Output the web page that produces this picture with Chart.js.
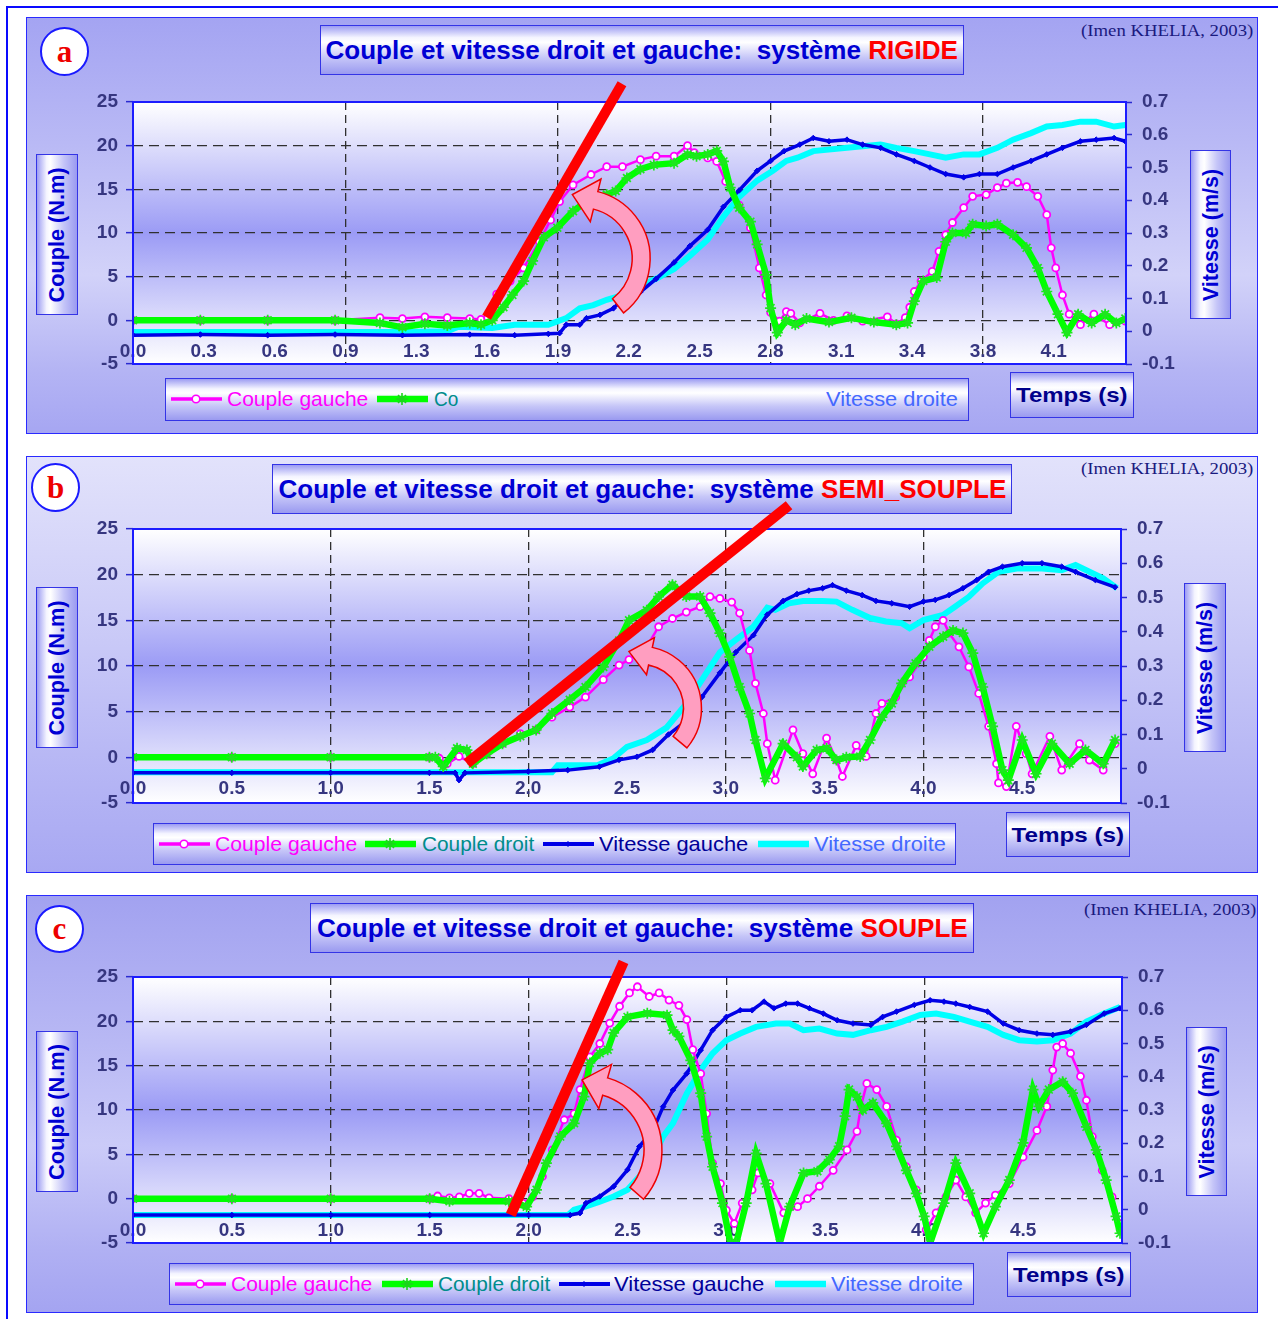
<!DOCTYPE html>
<html>
<head>
<meta charset="utf-8">
<script src="https://cdn.jsdelivr.net/npm/chart.js@4.4.1/dist/chart.umd.min.js"></script>
<style>
  body { margin:0; width:1278px; height:1319px; position:relative; background:#fff; overflow:hidden;
         font-family:Arial, "Liberation Sans", Helvetica, sans-serif; }
  .abs { position:absolute; }
  .line { position:absolute; background:#0a0aff; }
  .panel { position:absolute; box-sizing:border-box; border:1.5px solid #2a2aff; }
  .box { position:absolute; box-sizing:border-box; border:1.5px solid #3434e6;
         display:flex; align-items:center; justify-content:center; overflow:visible; }
  .hgrad { background:linear-gradient(180deg,#9c9cf2 0%,#f4f4ff 24%,#ffffff 34%,#c6c6f8 66%,#9a9af0 100%); }
  .vgrad { background:linear-gradient(90deg,#9c9cf2 0%,#f4f4ff 24%,#ffffff 34%,#c6c6f8 66%,#9a9af0 100%); }
  .fit { white-space:nowrap; display:inline-block; transform-origin:center center; }
  .title { font-weight:bold; font-size:26px; color:#0000d4; }
  .title b { color:#ff0000; }
  .axisTitle { font-weight:bold; font-size:22px; color:#0000d4; }
  .temps { font-weight:bold; font-size:21px; color:#00008b; }
  .circle { position:absolute; box-sizing:border-box; border:2px solid #1a1aff; border-radius:50%; background:#fff;
            display:flex; align-items:center; justify-content:center;
            font-family:"Times New Roman","Liberation Serif",serif; font-weight:bold; font-size:31px; color:#ee0000; }
  .imen { position:absolute; white-space:nowrap; font-family:"Times New Roman","Liberation Serif",serif;
          font-size:17px; line-height:20px; color:#1a1a80; transform-origin:left center; }
  .legText { position:absolute; white-space:nowrap; font-size:21px; line-height:24px; transform-origin:left center; }
  canvas { position:absolute; }
</style>
</head>
<body>
<div class="line" style="left:6px;top:6px;width:1272px;height:2px"></div>
<div class="line" style="left:6px;top:6px;width:2px;height:1313px"></div>
<script>
// ---------- data: [time (s), value] ----------
const aCoupleGauche = [[0,0],[0.3,0],[0.6,0],[0.9,0],[1.1,0.3],[1.2,0.2],[1.3,0.4],[1.4,0.3],[1.5,0.2],[1.55,0.1],
  [1.58,0.3],[1.62,3.0],[1.68,4.5],[1.74,6.0],[1.81,9.0],[1.86,11.5],[1.90,13.6],[1.96,15.5],[2.04,16.7],[2.11,17.6],
  [2.18,17.6],[2.26,18.4],[2.33,18.8],[2.41,18.8],[2.47,20.0],[2.50,19.2],[2.56,18.6],[2.60,18.2],[2.64,15.9],[2.70,13.2],
  [2.75,10.6],[2.79,6.0],[2.82,2.9],[2.84,0.9],[2.88,-0.1],[2.91,1.0],[2.93,0.8],[2.97,-0.3],[3.06,0.8],[3.12,0],
  [3.18,0.5],[3.25,-0.1],[3.36,0.4],[3.40,-0.4],[3.44,0.3],[3.46,1.5],[3.48,3.3],[3.51,4.5],[3.56,5.6],[3.59,7.9],
  [3.62,9.8],[3.65,11.2],[3.70,12.9],[3.74,14.2],[3.80,14.4],[3.85,15.2],[3.89,15.7],[3.94,15.8],[3.98,15.3],[4.03,14.2],
  [4.07,12.1],[4.09,8.3],[4.11,6.0],[4.14,2.9],[4.17,0.7],[4.22,-0.5],[4.28,0.7],[4.35,-0.5],[4.42,-0.1]];
const aCoupleDroit = [[0,0],[0.3,0],[0.6,0],[0.9,0],[1.1,-0.3],[1.2,-0.8],[1.3,-0.4],[1.4,-0.6],[1.5,-0.3],[1.55,-0.5],
  [1.60,0.0],[1.65,1.5],[1.69,2.9],[1.74,4.5],[1.78,6.8],[1.83,9.5],[1.89,10.6],[1.96,12.5],[2.02,13.6],[2.11,14.4],
  [2.15,14.8],[2.20,16.3],[2.26,17.3],[2.32,17.8],[2.41,18.0],[2.47,19.0],[2.51,18.8],[2.56,19.0],[2.60,19.4],[2.63,18.2],
  [2.66,15.2],[2.70,12.9],[2.75,11.3],[2.78,8.7],[2.82,5.2],[2.84,1.4],[2.87,-1.4],[2.91,0.0],[2.95,-0.5],[3.00,0.2],
  [3.10,-0.2],[3.20,0.3],[3.30,-0.2],[3.40,-0.5],[3.45,-0.3],[3.48,2.2],[3.52,4.5],[3.58,4.9],[3.62,9.0],[3.65,10.0],
  [3.71,10.0],[3.74,11.0],[3.80,10.8],[3.85,11.0],[3.92,9.8],[3.98,8.3],[4.03,6.0],[4.07,3.3],[4.12,0.7],[4.16,-1.4],
  [4.21,0.7],[4.27,-0.3],[4.33,0.7],[4.38,-0.3],[4.42,0.2]];
const aVitesseGauche = [[0,-0.012],[0.3,-0.010],[0.6,-0.012],[0.9,-0.010],[1.2,-0.012],[1.5,-0.010],[1.7,-0.012],[1.85,-0.008],
  [1.90,-0.006],[1.93,0.02],[1.99,0.02],[2.02,0.04],[2.08,0.05],[2.14,0.07],[2.17,0.09],[2.26,0.12],[2.33,0.16],[2.41,0.21],
  [2.48,0.26],[2.56,0.31],[2.63,0.38],[2.70,0.43],[2.78,0.49],[2.84,0.52],[2.90,0.55],[2.97,0.57],[3.03,0.59],[3.10,0.58],
  [3.18,0.585],[3.25,0.57],[3.33,0.56],[3.40,0.54],[3.48,0.52],[3.55,0.50],[3.62,0.48],[3.70,0.47],[3.77,0.48],[3.85,0.48],
  [3.92,0.50],[4.00,0.52],[4.07,0.54],[4.14,0.56],[4.22,0.58],[4.29,0.585],[4.37,0.59],[4.42,0.58]];
const aVitesseDroite = [[0,-0.002],[0.3,-0.002],[0.6,-0.002],[0.9,-0.002],[1.2,-0.002],[1.40,0.0],[1.45,0.014],[1.60,0.01],
  [1.70,0.02],[1.85,0.02],[1.93,0.04],[1.99,0.07],[2.05,0.08],[2.11,0.096],[2.18,0.11],[2.26,0.14],[2.33,0.16],[2.41,0.19],
  [2.48,0.23],[2.56,0.28],[2.63,0.35],[2.70,0.41],[2.78,0.46],[2.85,0.49],[2.91,0.52],[2.96,0.53],[3.03,0.55],[3.18,0.56],
  [3.33,0.57],[3.40,0.56],[3.48,0.55],[3.55,0.54],[3.62,0.53],[3.70,0.54],[3.77,0.54],[3.85,0.56],[3.92,0.585],[4.00,0.605],
  [4.07,0.625],[4.14,0.63],[4.22,0.64],[4.29,0.64],[4.37,0.625],[4.42,0.63]];

const bCoupleGauche = [[0,0],[0.5,0],[1.0,0],[1.5,0],[1.55,-0.1],[1.59,-0.7],[1.65,0.1],[1.72,-0.7],[1.79,0.4],[1.87,1.5],
  [1.96,2.6],[2.04,3.0],[2.12,4.4],[2.21,5.5],[2.29,6.6],[2.38,8.5],[2.46,10.1],[2.51,10.7],[2.60,12.1],[2.66,14.3],
  [2.73,15.2],[2.80,15.9],[2.87,16.5],[2.92,17.6],[2.97,17.4],[3.03,17.0],[3.07,15.8],[3.12,11.7],[3.15,8.1],[3.19,4.8],
  [3.21,1.5],[3.25,-2.5],[3.34,3.0],[3.39,0.4],[3.44,-1.8],[3.51,2.1],[3.56,-0.3],[3.59,-2.1],[3.66,1.3],[3.71,0.1],
  [3.76,4.8],[3.79,5.9],[3.86,6.6],[3.93,8.8],[4.00,11.0],[4.03,12.8],[4.06,14.3],[4.10,15.0],[4.13,13.6],[4.18,12.1],
  [4.23,9.9],[4.28,7.0],[4.33,3.4],[4.37,-0.7],[4.38,-2.8],[4.42,-3.2],[4.47,3.4],[4.52,0.4],[4.55,-1.8],[4.64,2.3],
  [4.70,-1.4],[4.79,1.5],[4.84,-0.3],[4.91,-1.4],[4.97,1.5]];
const bCoupleDroit = [[0,0],[0.5,0],[1.0,0],[1.5,0],[1.53,0],[1.57,-1.0],[1.64,1.0],[1.69,0.8],[1.72,-0.7],[1.79,0.4],
  [1.87,1.5],[1.96,2.3],[2.04,3.0],[2.12,4.8],[2.21,6.3],[2.29,7.7],[2.38,9.9],[2.46,12.8],[2.51,15.0],[2.60,16.1],
  [2.66,17.6],[2.73,18.9],[2.80,17.6],[2.87,17.6],[2.92,15.8],[2.97,13.6],[3.02,11.0],[3.07,7.7],[3.12,4.8],[3.15,1.9],
  [3.20,-2.3],[3.29,1.5],[3.36,0],[3.39,-1.0],[3.46,0.8],[3.51,1.0],[3.56,-0.3],[3.61,0],[3.68,0.1],[3.73,1.9],
  [3.79,4.4],[3.84,5.9],[3.89,8.1],[3.96,10.3],[4.03,12.1],[4.10,13.2],[4.15,13.9],[4.20,13.6],[4.25,11.4],[4.30,7.7],
  [4.35,3.4],[4.40,-1.4],[4.43,-2.5],[4.50,1.9],[4.57,-1.8],[4.65,1.5],[4.74,-0.7],[4.82,0.8],[4.91,-0.7],[4.97,1.9]];
const bVitesseGauche = [[0,-0.012],[0.5,-0.012],[1.0,-0.012],[1.5,-0.012],[1.63,-0.012],[1.65,-0.033],[1.68,-0.012],[2.0,-0.008],
  [2.20,-0.004],[2.36,0.006],[2.46,0.026],[2.55,0.035],[2.63,0.055],[2.71,0.10],[2.80,0.14],[2.88,0.21],[2.97,0.28],[3.05,0.34],
  [3.14,0.39],[3.21,0.45],[3.29,0.49],[3.36,0.51],[3.42,0.52],[3.49,0.527],[3.54,0.536],[3.61,0.52],[3.69,0.507],[3.76,0.49],
  [3.84,0.483],[3.93,0.473],[4.00,0.488],[4.06,0.493],[4.13,0.507],[4.20,0.527],[4.27,0.551],[4.33,0.575],[4.40,0.59],[4.50,0.60],
  [4.60,0.60],[4.70,0.59],[4.77,0.575],[4.87,0.551],[4.97,0.53]];
const bVitesseDroite = [[0,-0.01],[0.5,-0.01],[1.0,-0.01],[1.5,-0.01],[2.0,-0.01],[2.12,-0.01],[2.15,0.01],[2.35,0.01],
  [2.43,0.03],[2.50,0.064],[2.60,0.084],[2.70,0.12],[2.80,0.19],[2.88,0.26],[2.97,0.34],[3.05,0.376],[3.14,0.415],[3.21,0.47],
  [3.25,0.464],[3.32,0.483],[3.39,0.49],[3.49,0.49],[3.56,0.488],[3.64,0.464],[3.73,0.44],[3.81,0.43],[3.89,0.425],[3.93,0.41],
  [4.00,0.434],[4.10,0.449],[4.16,0.473],[4.23,0.502],[4.30,0.541],[4.38,0.575],[4.48,0.585],[4.60,0.585],[4.70,0.58],[4.77,0.595],
  [4.84,0.575],[4.91,0.556],[4.98,0.527]];

const cCoupleGauche = [[0,0],[0.5,0],[1.0,0],[1.5,0],[1.54,0.3],[1.60,0.1],[1.65,0.2],[1.70,0.6],[1.75,0.6],[1.80,0.1],
  [1.90,0],[1.97,-0.5],[2.02,0.2],[2.07,2.5],[2.12,5.5],[2.18,8.9],[2.23,9.6],[2.26,12.3],[2.31,16.0],[2.36,17.5],
  [2.41,19.8],[2.46,21.7],[2.51,23.2],[2.55,23.9],[2.61,22.8],[2.66,23.2],[2.71,22.4],[2.76,21.8],[2.80,20.2],[2.83,16.8],
  [2.87,14.1],[2.90,9.6],[2.93,4.0],[2.97,1.7],[3.00,-1.3],[3.04,-2.8],[3.08,-0.5],[3.13,1.0],[3.16,2.9],[3.22,1.7],
  [3.29,-1.6],[3.36,-0.9],[3.41,0],[3.47,1.4],[3.54,3.2],[3.61,5.5],[3.66,7.6],[3.68,10.4],[3.71,13.0],[3.76,12.3],
  [3.81,10.4],[3.86,6.6],[3.91,3.6],[3.96,1.0],[4.01,-3.5],[4.06,-1.6],[4.11,0.2],[4.16,2.1],[4.21,0.2],[4.26,-1.6],
  [4.31,-0.5],[4.36,0.4],[4.43,1.7],[4.50,4.7],[4.57,7.7],[4.62,10.4],[4.65,14.5],[4.67,17.1],[4.70,17.5],[4.74,16.4],
  [4.79,13.8],[4.82,11.1],[4.85,7.0],[4.90,3.2],[4.95,0.2],[4.99,-2.8]];
const cCoupleDroit = [[0,0],[0.5,0],[1.0,0],[1.5,0],[1.6,-0.3],[1.9,-0.3],[1.99,-0.9],[2.04,1.0],[2.09,4.0],[2.16,7.0],
  [2.23,8.5],[2.28,11.5],[2.31,15.3],[2.36,16.4],[2.40,16.8],[2.43,18.7],[2.50,20.5],[2.60,20.9],[2.70,20.7],[2.73,19.0],
  [2.76,18.3],[2.82,15.6],[2.87,11.9],[2.90,7.0],[2.93,3.6],[2.98,-0.5],[3.02,-5.0],[3.05,-5.0],[3.10,-0.5],[3.15,5.1],
  [3.20,1.7],[3.27,-5.0],[3.32,-0.9],[3.39,2.9],[3.46,3.1],[3.52,4.4],[3.57,5.9],[3.60,9.3],[3.62,12.3],[3.66,11.5],
  [3.69,10.0],[3.74,10.8],[3.81,8.5],[3.86,5.9],[3.91,3.2],[3.96,0.6],[4.00,-2.0],[4.03,-5.0],[4.10,-0.5],[4.16,4.0],
  [4.23,0.6],[4.30,-3.9],[4.36,-0.9],[4.43,2.1],[4.50,6.3],[4.55,12.3],[4.58,10.4],[4.63,12.3],[4.70,13.2],[4.75,11.9],
  [4.82,8.1],[4.87,5.5],[4.92,2.1],[4.97,-2.0],[4.99,-3.9]];
const cVitesseGauche = [[0,-0.016],[0.5,-0.016],[1.0,-0.016],[1.5,-0.016],[2.0,-0.016],[2.21,-0.016],[2.26,-0.01],[2.29,0.02],
  [2.36,0.04],[2.43,0.07],[2.50,0.12],[2.56,0.19],[2.63,0.24],[2.68,0.31],[2.73,0.36],[2.80,0.41],[2.87,0.48],[2.93,0.54],
  [3.00,0.58],[3.07,0.60],[3.13,0.60],[3.19,0.626],[3.24,0.606],[3.30,0.62],[3.36,0.62],[3.42,0.606],[3.49,0.59],[3.56,0.57],
  [3.64,0.56],[3.73,0.556],[3.79,0.58],[3.86,0.596],[3.95,0.616],[4.03,0.63],[4.10,0.626],[4.16,0.62],[4.23,0.61],[4.32,0.596],
  [4.40,0.56],[4.48,0.54],[4.57,0.53],[4.65,0.526],[4.74,0.536],[4.82,0.556],[4.91,0.59],[4.99,0.606]];
const cVitesseDroite = [[0,-0.016],[0.5,-0.016],[1.0,-0.016],[1.5,-0.016],[2.0,-0.016],[2.20,-0.016],[2.23,0],[2.29,0.01],
  [2.36,0.024],[2.43,0.04],[2.50,0.06],[2.56,0.10],[2.63,0.16],[2.68,0.22],[2.73,0.26],[2.80,0.35],[2.87,0.42],[2.93,0.47],
  [3.00,0.51],[3.07,0.53],[3.15,0.55],[3.25,0.56],[3.32,0.56],[3.39,0.54],[3.47,0.545],[3.56,0.53],[3.64,0.526],[3.73,0.54],
  [3.81,0.55],[3.89,0.566],[3.98,0.586],[4.06,0.59],[4.15,0.58],[4.23,0.566],[4.32,0.55],[4.40,0.526],[4.48,0.51],[4.57,0.506],
  [4.65,0.51],[4.74,0.53],[4.82,0.566],[4.91,0.59],[4.99,0.61]];

// x tick positions (s) and their printed labels
const xTicksA = [0, 0.315, 0.631, 0.946, 1.262, 1.577, 1.893, 2.208, 2.524, 2.839, 3.155, 3.470, 3.786, 4.101];
const xLabelsA = ['0.0','0.3','0.6','0.9','1.3','1.6','1.9','2.2','2.5','2.8','3.1','3.4','3.8','4.1'];
const xTicksBC = [0, 0.5, 1.0, 1.5, 2.0, 2.5, 3.0, 3.5, 4.0, 4.5];
const xLabelsBC = ['0.0','0.5','1.0','1.5','2.0','2.5','3.0','3.5','4.0','4.5'];

// annotations in data units (time, couple): red line and curved arrow centre
const annoA = { line:[[1.575,0.34],[2.178,27.1]], lw:10, arrow:{t:1.996, c:7.07, r:60, w:18, a0:52, a1:-76, ext:13, len:24} };
const annoB = { line:[[1.69,-0.66],[3.32,27.6]], lw:10.5, arrow:{t:2.563, c:5.40, r:53, w:18, a0:40, a1:-78, ext:10, len:22} };
const annoC = { line:[[1.91,-1.84],[2.48,26.7]], lw:10.5, arrow:{t:2.295, c:5.49, r:66, w:18, a0:41, a1:-74, ext:14, len:24} };

const FONT = 'Arial, "Liberation Sans", Helvetica, sans-serif';
const TICK_COLOR = '#363680';

const STYLE = {
  cg: { label:'Couple gauche', borderColor:'#ff00ff', borderWidth:2.5, pointStyle:'circle', pointRadius:3.5,
        pointBackgroundColor:'#ffffff', pointBorderColor:'#ff00ff', pointBorderWidth:1.8, yAxisID:'y', order:1 },
  cd: { label:'Couple droit', borderColor:'#00ff00', borderWidth:6.5, pointStyle:'star', pointRadius:5.5,
        pointBackgroundColor:'#00ff00', pointBorderColor:'#1ee61e', pointBorderWidth:1.7, yAxisID:'y', order:0 },
  vg: { label:'Vitesse gauche', borderColor:'#0000e6', borderWidth:3.5, pointStyle:'rectRot', pointRadius:2.8,
        pointBackgroundColor:'#0000e6', pointBorderColor:'#0000e6', pointBorderWidth:1, yAxisID:'y1', order:2 },
  vd: { label:'Vitesse droite', borderColor:'#00ffff', borderWidth:6, pointRadius:0, yAxisID:'y1', order:3 }
};
const LEG_COLOR = { cg:'#ff00ff', cd:'#008c8c', vg:'#000099', vd:'#4468ff' };

const PANELS = [
  { id:'a', system:'RIGIDE', box:[26,17,1232,417],
    bg:'linear-gradient(180deg,#a4a4f2 0%,#b9b9f5 30%,#d2d2f9 62%,#b4b4f4 85%,#a6a6f2 100%)',
    plot:[107,85,1100,347], xMax:4.423, xTicks:xTicksA, xLabels:xLabelsA, vGrid:[3,6,9,12], xLabelUp:12,
    series:{ cg:aCoupleGauche, cd:aCoupleDroit, vg:aVitesseGauche, vd:aVitesseDroite }, anno:annoA,
    title:[320,25,644,50,632], circle:[40,27,49,49], imen:[1081,31,172],
    couple:[36,154,42,161,135], vitesse:[1190,150,41,169,132], temps:[1010,372,124,46,112],
    legend:[165,378,804,43], legY:399,
    legItems:[ {s:'cg',x:171}, {t:'Couple gauche',k:'cg',x:227,w:141}, {s:'cd',x:377}, {t:'Co',k:'cd',x:434,w:24.5},
               {t:'Vitesse droite',k:'vd',x:826,w:132} ] },
  { id:'b', system:'SEMI_SOUPLE', box:[26,456,1232,417],
    bg:'linear-gradient(180deg,#e2e2fb 0%,#cfcff8 35%,#b9b9f5 70%,#a8a8f2 100%)',
    plot:[107,73,1095,347], xMax:5.0, xTicks:xTicksBC, xLabels:xLabelsBC, vGrid:[2,4,6,8], xLabelUp:14,
    series:{ cg:bCoupleGauche, cd:bCoupleDroit, vg:bVitesseGauche, vd:bVitesseDroite }, anno:annoB,
    title:[272,464,740,50,728], circle:[31,463,49,49], imen:[1081,469,172],
    couple:[36,587,42,161,135], vitesse:[1184,583,42,169,132], temps:[1006,812,124,45,113],
    legend:[153,823,803,42], legY:844,
    legItems:[ {s:'cg',x:159}, {t:'Couple gauche',k:'cg',x:215,w:142}, {s:'cd',x:365}, {t:'Couple droit',k:'cd',x:422,w:112},
               {s:'vg',x:543}, {t:'Vitesse gauche',k:'vg',x:599,w:149}, {s:'vd',x:758}, {t:'Vitesse droite',k:'vd',x:814,w:132} ] },
  { id:'c', system:'SOUPLE', box:[26,895,1232,418],
    bg:'linear-gradient(180deg,#a2a2f0 0%,#b8b8f4 35%,#cbcbf8 60%,#b0b0f3 85%,#a4a4f1 100%)',
    plot:[107,82,1096,348], xMax:5.0, xTicks:xTicksBC, xLabels:xLabelsBC, vGrid:[2,4,6,8], xLabelUp:12,
    series:{ cg:cCoupleGauche, cd:cCoupleDroit, vg:cVitesseGauche, vd:cVitesseDroite }, anno:annoC,
    title:[310,903,664,50,651], circle:[35,905,49,48], imen:[1084,910,172],
    couple:[36,1031,42,161,136], vitesse:[1186,1027,41,169,133], temps:[1007,1252,124,45,112],
    legend:[169,1263,805,42], legY:1284,
    legItems:[ {s:'cg',x:175}, {t:'Couple gauche',k:'cg',x:231,w:141}, {s:'cd',x:382}, {t:'Couple droit',k:'cd',x:438,w:112},
               {s:'vg',x:559}, {t:'Vitesse gauche',k:'vg',x:614,w:150}, {s:'vd',x:775}, {t:'Vitesse droite',k:'vd',x:831,w:132} ] }
];

// ---------- helpers ----------
function el(tag, cls, css, html) {
  const e = document.createElement(tag);
  if (cls) e.className = cls;
  if (css) e.style.cssText = css;
  if (html !== undefined) e.innerHTML = html;
  document.body.appendChild(e);
  return e;
}
function boxCss(r) { return `left:${r[0]}px;top:${r[1]}px;width:${r[2]}px;height:${r[3]}px;`; }

function fitInBox(box, cls, html, target, vertical) {
  const s = document.createElement('span');
  s.className = 'fit ' + cls;
  s.innerHTML = html;
  box.appendChild(s);
  const k = target / s.offsetWidth;
  s.style.transform = vertical ? `rotate(-90deg) scaleX(${k})` : `scaleX(${k})`;
}
function fitLeft(cls, text, x, yc, target, color) {
  const s = el('span', cls, `left:${x}px;top:0px;` + (color ? `color:${color};` : ''), text);
  const h = s.offsetHeight;
  s.style.top = (yc - h / 2) + 'px';
  s.style.transform = `scaleX(${target / s.offsetWidth})`;
}

function legendSample(kind, x, yc) {
  const c = STYLE[kind].borderColor;
  let mark = '';
  if (kind === 'cg') mark = `<circle cx="25" cy="8" r="3.8" fill="#fff" stroke="${c}" stroke-width="1.6"/>`;
  if (kind === 'cd') mark = `<g stroke="#1ed21e" stroke-width="1.6"><line x1="25" y1="2" x2="25" y2="14"/><line x1="19" y1="8" x2="31" y2="8"/>`
                          + `<line x1="21" y1="4" x2="29" y2="12"/><line x1="21" y1="12" x2="29" y2="4"/></g>`;
  if (kind === 'vg') mark = `<polygon points="25,5 28,8 25,11 22,8" fill="${c}"/>`;
  const w = { cg:3.5, cd:6.5, vg:4, vd:6.5 }[kind];
  const svg = `<svg width="51" height="16" viewBox="0 0 51 16"><line x1="0" y1="8" x2="51" y2="8" stroke="${c}" stroke-width="${w}"/>${mark}</svg>`;
  el('div', 'abs', `left:${x}px;top:${yc - 8}px;width:51px;height:16px;line-height:0`, svg);
}

function decoPlugin(p) {
  const anno = p.anno;
  return {
    id: 'deco',
    beforeDraw(chart) {
      const { ctx, chartArea: a } = chart;
      const g = ctx.createLinearGradient(0, a.top, 0, a.bottom);
      g.addColorStop(0, '#ffffff');
      g.addColorStop(0.5, '#9b9bf5');
      g.addColorStop(1, '#ffffff');
      ctx.save();
      ctx.fillStyle = g;
      ctx.fillRect(a.left, a.top, a.right - a.left, a.bottom - a.top);
      ctx.restore();
    },
    beforeDatasetsDraw(chart) {
      // category-style time labels sit inside the plot, just above its bottom edge
      const { ctx, chartArea: a, scales } = chart;
      ctx.save();
      ctx.font = `bold 19px ${FONT}`;
      ctx.fillStyle = TICK_COLOR;
      ctx.textAlign = 'center';
      ctx.textBaseline = 'middle';
      p.xTicks.forEach((v, i) => ctx.fillText(p.xLabels[i], scales.x.getPixelForValue(v), a.bottom - p.xLabelUp));
      ctx.restore();
    },
    afterDatasetsDraw(chart) {
      const { ctx, chartArea: a, scales } = chart;
      const px = v => scales.x.getPixelForValue(v), py = v => scales.y.getPixelForValue(v);
      ctx.save();
      // plot frame
      ctx.strokeStyle = '#1c1cff';
      ctx.lineWidth = 2;
      ctx.strokeRect(a.left, a.top, a.right - a.left, a.bottom - a.top);
      // thick red slope line
      const [p0, p1] = anno.line;
      ctx.strokeStyle = '#ff0000';
      ctx.lineWidth = anno.lw;
      ctx.lineCap = 'butt';
      ctx.beginPath();
      ctx.moveTo(px(p0[0]), py(p0[1]));
      ctx.lineTo(px(p1[0]), py(p1[1]));
      ctx.stroke();
      // pink curved arrow
      const ar = anno.arrow;
      const cx = px(ar.t), cy = py(ar.c), hw = ar.w / 2;
      const a0 = ar.a0 * Math.PI / 180, a1 = ar.a1 * Math.PI / 180;
      const ox = Math.cos(a1), oy = Math.sin(a1), tx = Math.sin(a1), ty = -Math.cos(a1);
      ctx.beginPath();
      ctx.arc(cx, cy, ar.r + hw, a0, a1, true);
      ctx.lineTo(cx + (ar.r + hw + ar.ext) * ox, cy + (ar.r + hw + ar.ext) * oy);
      ctx.lineTo(cx + ar.r * ox + ar.len * tx, cy + ar.r * oy + ar.len * ty);
      ctx.lineTo(cx + (ar.r - hw - ar.ext) * ox, cy + (ar.r - hw - ar.ext) * oy);
      ctx.lineTo(cx + (ar.r - hw) * ox, cy + (ar.r - hw) * oy);
      ctx.arc(cx, cy, ar.r - hw, a1, a0, false);
      ctx.closePath();
      ctx.fillStyle = '#ff9ec0';
      ctx.fill();
      ctx.strokeStyle = '#ee0000';
      ctx.lineWidth = 1.5;
      ctx.stroke();
      ctx.restore();
    }
  };
}

function dataset(pairs, st) {
  return Object.assign({ data: pairs.map(([x, y]) => ({ x, y })), tension: 0, fill: false }, st);
}

function buildChart(p) {
  const [left, top, W, H] = p.box;
  const pa = p.plot;
  const cv = el('canvas', '', `left:${left}px;top:${top}px;width:${W}px;height:${H}px`);
  cv.width = W; cv.height = H;
  const tickFont = { family: FONT, size: 19, weight: 'bold' };
  new Chart(cv, {
    type: 'line',
    data: { datasets: [ dataset(p.series.cd, STYLE.cd), dataset(p.series.cg, STYLE.cg),
                        dataset(p.series.vg, STYLE.vg), dataset(p.series.vd, STYLE.vd) ] },
    options: {
      responsive: false, animation: false, devicePixelRatio: 1, events: [],
      layout: { padding: { left: 0, right: 0, top: pa[1], bottom: H - pa[3] } },
      plugins: { legend: { display: false }, tooltip: { enabled: false } },
      scales: {
        x: {
          type: 'linear', min: 0, max: p.xMax,
          afterBuildTicks: s => { s.ticks = p.xTicks.map(v => ({ value: v })); },
          afterFit: s => { s.height = 0; },
          ticks: { display: false },
          grid: { color: c => p.vGrid.includes(c.index) ? '#303030' : 'rgba(0,0,0,0)', lineWidth: 1.3, drawTicks: false },
          border: { display: false, dash: [8, 5] }
        },
        y: {
          position: 'left', min: -5, max: 25,
          afterFit: s => { s.width = pa[0]; },
          ticks: { stepSize: 5, padding: 8, color: TICK_COLOR, font: tickFont },
          grid: { color: c => (c.tick.value > -5 && c.tick.value < 25) ? '#303030' : 'rgba(0,0,0,0)',
                  lineWidth: 1.3, tickLength: 7, tickColor: '#2a2ad0', tickWidth: 1.5 },
          border: { display: false, dash: [10, 6] }
        },
        y1: {
          position: 'right', min: -0.1, max: 0.7,
          afterFit: s => { s.width = W - pa[2]; },
          ticks: { stepSize: 0.1, padding: 10, color: TICK_COLOR, font: tickFont,
                   callback: v => Math.abs(v) < 1e-9 ? '0' : v.toFixed(1) },
          grid: { drawOnChartArea: false, tickLength: 6, tickColor: '#2a2ad0', tickWidth: 1.5 },
          border: { display: false }
        }
      }
    },
    plugins: [decoPlugin(p)]
  });
}

function buildPanel(p) {
  el('div', 'panel', boxCss(p.box) + `background:${p.bg}`);
  const t = el('div', 'box hgrad', boxCss(p.title));
  fitInBox(t, 'title', `Couple et vitesse droit et gauche:&nbsp; système <b>${p.system}</b>`, p.title[4], false);
  el('div', 'circle', boxCss(p.circle), p.id);
  fitLeft('imen', '(Imen KHELIA, 2003)', p.imen[0], p.imen[1], p.imen[2]);
  const cb = el('div', 'box vgrad', boxCss(p.couple));
  fitInBox(cb, 'axisTitle', 'Couple (N.m)', p.couple[4], true);
  const vb = el('div', 'box vgrad', boxCss(p.vitesse));
  fitInBox(vb, 'axisTitle', 'Vitesse (m/s)', p.vitesse[4], true);
  const tb = el('div', 'box hgrad', boxCss(p.temps));
  fitInBox(tb, 'temps', 'Temps (s)', p.temps[4], false);
  el('div', 'box hgrad', boxCss(p.legend));
  p.legItems.forEach(it => {
    if (it.s) legendSample(it.s, it.x, p.legY);
    else fitLeft('legText', it.t, it.x, p.legY, it.w, LEG_COLOR[it.k]);
  });
  buildChart(p);
}

PANELS.forEach(buildPanel);
</script>
</body>
</html>
